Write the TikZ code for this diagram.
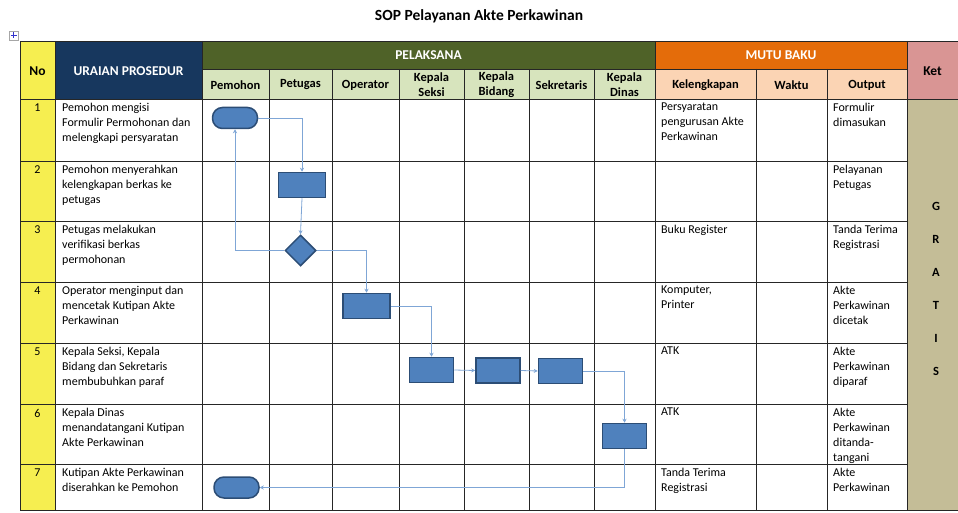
\documentclass[tikz,border=0pt]{standalone}
\usepackage{fontspec}
\setmainfont{Carlito}
\usepackage{tikz}
\usetikzlibrary{arrows.meta,shapes.geometric}
\usepackage{xcolor}
\definecolor{nocol}{HTML}{F6EE50}
\definecolor{uraian}{HTML}{17375E}
\definecolor{pelaksana}{HTML}{4F6228}
\definecolor{pelsub}{HTML}{D7E4BD}
\definecolor{mutu}{HTML}{E46C0A}
\definecolor{mutusub}{HTML}{FBD4B4}
\definecolor{kethead}{HTML}{D99594}
\definecolor{ketbody}{HTML}{C4BD97}
\definecolor{boxfill}{HTML}{4F81BD}
\definecolor{boxline}{HTML}{2C4D75}
\definecolor{flowline}{HTML}{7FA6D6}

\begin{document}
\begin{tikzpicture}[x=1pt,y=-1pt,
  gridline/.style={black!85, line width=0.8pt},
  head/.style={font=\bfseries\fontsize{12.5}{15}\selectfont, align=center, inner sep=0pt},
  bighead/.style={head, font=\bfseries\fontsize{13.5}{15}\selectfont},
  cell/.style={anchor=north west, align=left, inner sep=0pt, font=\fontsize{12}{15}\selectfont},
  num/.style={anchor=north, inner sep=0pt, font=\fontsize{12}{15}\selectfont},
  shp/.style={draw=boxline, fill=boxfill, line width=1.5pt, inner sep=0pt},
  term/.style={shp, rounded corners=10pt, minimum width=45, minimum height=21},
  proc/.style={shp, minimum width=47, minimum height=25},
  dec/.style={shp, diamond, minimum size=31},
  flow/.style={flowline, line width=0.8pt, -{Stealth[length=4pt,width=4pt]}}]
\useasboundingbox (0,0) rectangle (958,513);

% Title and table handle
\node[font=\bfseries\fontsize{15.5}{18}\selectfont] (title) at (479,16) {SOP Pelayanan Akte Perkawinan};
\draw[gray!70, line width=0.5pt] (9,31) rectangle (18,40);
\draw[blue!60!gray, line width=0.6pt] (10.5,35.5) -- (16.5,35.5) (13.5,32.5) -- (13.5,38.5);

% Cell fills
\fill[nocol] (20,41) rectangle (55,510);
\fill[uraian] (55,41) rectangle (202,99);
\fill[pelaksana] (202,41) rectangle (655,69);
\fill[pelsub] (202,69) rectangle (655,99);
\fill[mutu] (655,41) rectangle (907,69);
\fill[mutusub] (655,69) rectangle (907,99);
\fill[kethead] (907,41) rectangle (958,99);
\fill[ketbody] (907,99) rectangle (958,510);

% Grid lines
\draw[gridline] (20,41) -- (958,41) (202,69) -- (907,69) (20,99) -- (958,99);
\draw[gridline] (20,161) -- (907,161) (20,221) -- (907,221) (20,282) -- (907,282)
  (20,343) -- (907,343) (20,404) -- (907,404) (20,464) -- (907,464) (20,510) -- (958,510);
\draw[gridline] (20,41) -- (20,510) (55,41) -- (55,510) (202,41) -- (202,510)
  (655,41) -- (655,510) (907,41) -- (907,510);
\draw[gridline] (269,69) -- (269,510) (332,69) -- (332,510) (399,69) -- (399,510)
  (464,69) -- (464,510) (529,69) -- (529,510) (594,69) -- (594,510)
  (756,69) -- (756,510) (827,69) -- (827,510);

% Header texts
\node[bighead] (hno) at (37.5,71) {No};
\node[bighead, white] (hura) at (128.5,71) {URAIAN PROSEDUR};
\node[bighead, white] (hpel) at (428.5,55) {PELAKSANA};
\node[bighead, white] (hmutu) at (781,55) {MUTU BAKU};
\node[bighead] (hket) at (932.5,71) {Ket};
\node[head] (hpemohon) at (235.5,85) {Pemohon};
\node[head] (hpetugas) at (300.5,85) {Petugas};
\node[head] (hoperator) at (365.5,85) {Operator};
\node[head] (hseksi) at (431.5,85) {Kepala\\Seksi};
\node[head] (hbidang) at (496.5,85) {Kepala\\Bidang};
\node[head] (hsekr) at (561.5,85) {Sekretaris};
\node[head] (hdinas) at (624.5,85) {Kepala\\Dinas};
\node[head] (hkel) at (705.5,85) {Kelengkapan};
\node[head] (hwaktu) at (791.5,85) {Waktu};
\node[head] (houtput) at (867,85) {Output};

% Row numbers
\node[num] (n1) at (37.5,104) {1};
\node[num] (n2) at (37.5,166) {2};
\node[num] (n3) at (37.5,226) {3};
\node[num] (n4) at (37.5,287) {4};
\node[num] (n5) at (37.5,348) {5};
\node[num] (n6) at (37.5,409) {6};
\node[num] (n7) at (37.5,469) {7};

% Uraian prosedur
\node[cell] (u1) at (62,103) {Pemohon mengisi\\Formulir Permohonan dan\\melengkapi persyaratan};
\node[cell] (u2) at (62,165) {Pemohon menyerahkan\\kelengkapan berkas ke\\petugas};
\node[cell] (u3) at (62,225) {Petugas melakukan\\verifikasi berkas\\permohonan};
\node[cell] (u4) at (62,286) {Operator menginput dan\\mencetak Kutipan Akte\\Perkawinan};
\node[cell] (u5) at (62,347) {Kepala Seksi, Kepala\\Bidang dan Sekretaris\\membubuhkan paraf};
\node[cell] (u6) at (62,408) {Kepala Dinas\\menandatangani Kutipan\\Akte Perkawinan};
\node[cell] (u7) at (62,468) {Kutipan Akte Perkawinan\\diserahkan ke Pemohon};

% Kelengkapan
\node[cell] (k1) at (661,103) {Persyaratan\\pengurusan Akte\\Perkawinan};
\node[cell] (k3) at (661,225) {Buku Register};
\node[cell] (k4) at (661,286) {Komputer,\\Printer};
\node[cell] (k5) at (661,347) {ATK};
\node[cell] (k6) at (661,408) {ATK};
\node[cell] (k7) at (661,468) {Tanda Terima\\Registrasi};

% Output
\node[cell] (o1) at (833,103) {Formulir\\dimasukan};
\node[cell] (o2) at (833,165) {Pelayanan\\Petugas};
\node[cell] (o3) at (833,225) {Tanda Terima\\Registrasi};
\node[cell] (o4) at (833,286) {Akte\\Perkawinan\\dicetak};
\node[cell] (o5) at (833,347) {Akte\\Perkawinan\\diparaf};
\node[cell] (o6) at (833,408) {Akte\\Perkawinan\\ditanda-\\tangani};
\node[cell] (o7) at (833,468) {Akte\\Perkawinan};

% Ket
\node[font=\bfseries\fontsize{12.5}{33}\selectfont, align=center, inner sep=0pt] (gratis) at (936,289) {G\\R\\A\\T\\I\\S};

% Flow shapes
\node[term] (t1) at (235,118) {};
\node[proc] (p2) at (302,185) {};
\node[dec] (d3) at (300.5,250.5) {};
\node[proc] (p4) at (366.5,306) {};
\node[proc, minimum width=44] (p5a) at (431.5,370) {};
\node[proc, minimum width=44] (p5b) at (498,370.5) {};
\node[proc, minimum width=44] (p5c) at (560.5,371) {};
\node[proc, minimum width=44] (p6) at (624.5,436) {};
\node[term] (t7) at (236.5,487.5) {};

% Connectors
\draw[flow] (t1.east) -| (p2.north);
\draw[flow] (p2.south) -- (d3.north);
\draw[flow] (d3.west) -| (t1.south);
\draw[flow] (d3.east) -| (p4.north);
\draw[flow] (p4.east) -| (p5a.north);
\draw[flow] (p5a.east) -- (p5b.west);
\draw[flow] (p5b.east) -- (p5c.west);
\draw[flow] (p5c.east) -| (p6.north);
\draw[flow] (p6.south) |- (t7.east);
\end{tikzpicture}
\end{document}
